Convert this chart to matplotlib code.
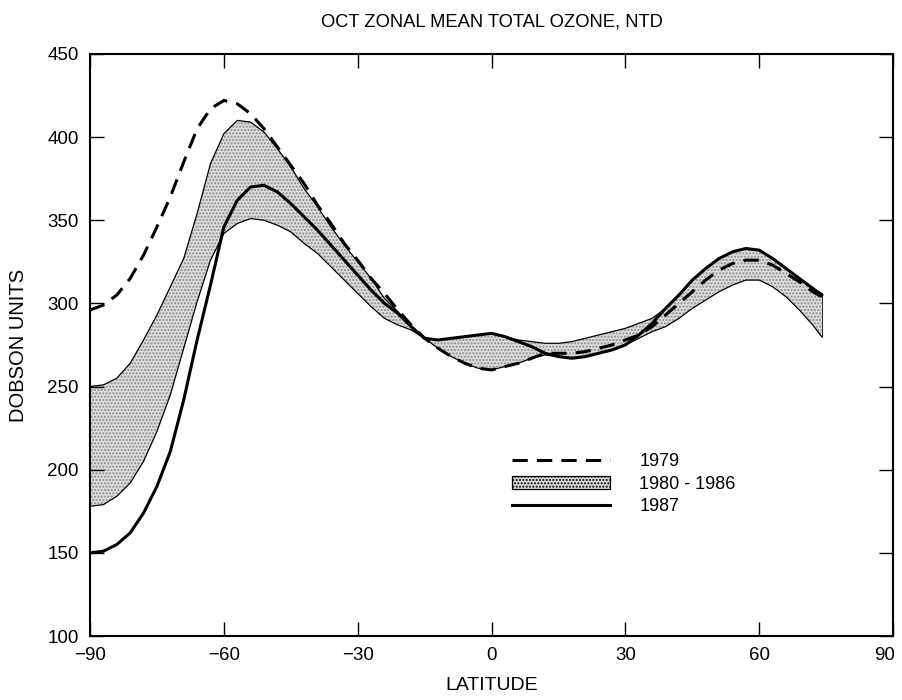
import matplotlib.pyplot as plt
from matplotlib.lines import Line2D
from matplotlib.patches import Patch
from matplotlib.transforms import ScaledTranslation

plt.rcParams['font.family'] = ['Liberation Sans', 'DejaVu Sans']

lat = [-90, -87, -84, -81, -78, -75, -72, -69, -66, -63, -60, -57, -54, -51,
       -48, -45, -42, -39, -36, -33, -30, -27, -24, -21, -18, -15, -12, -9,
       -6, -3, 0, 3, 6, 9, 12, 15, 18, 21, 24, 27, 30, 33, 36, 39, 42, 45,
       48, 51, 54, 57, 60, 63, 66, 69, 72, 74]

oz_1979 = [296, 299, 305, 315, 329, 346, 364, 385, 405, 417, 422, 420, 414,
           405, 394, 383, 372, 359, 348, 336, 326, 315, 306, 296, 287, 279,
           273, 268, 264, 261, 260, 262, 264, 267, 270, 270, 270, 271, 273,
           275, 278, 281, 286, 293, 300, 307, 314, 320, 324, 326, 326, 323,
           318, 313, 307, 304]

oz_1987 = [150, 151, 155, 162, 174, 190, 211, 242, 278, 311, 346, 362, 370,
           371, 367, 360, 352, 344, 335, 326, 317, 308, 300, 294, 286, 279,
           278, 279, 280, 281, 282, 280, 277, 274, 270, 268, 267, 268, 270,
           272, 275, 281, 288, 297, 305, 314, 321, 327, 331, 333, 332, 327,
           321, 315, 309, 305]

band_hi = [250, 251, 255, 264, 278, 293, 310, 327, 354, 384, 402, 410, 409,
           403, 393, 382, 369, 358, 346, 335, 325, 315, 303, 295, 286, 279,
           278, 279, 280, 281, 282, 280, 278, 277, 276, 276, 277, 279, 281,
           283, 285, 288, 291, 297, 305, 314, 321, 327, 331, 333, 332, 327,
           321, 315, 309, 306]

band_lo = [178, 179, 184, 192, 205, 223, 245, 273, 301, 326, 342, 348, 351,
           350, 347, 343, 336, 330, 322, 314, 306, 298, 291, 287, 284, 279,
           273, 268, 264, 261, 260, 262, 264, 267, 269, 268, 267, 268, 270,
           272, 275, 279, 283, 286, 291, 297, 302, 307, 311, 314, 314, 310,
           304, 296, 287, 280]

fig = plt.figure(figsize=(9.03, 7.0), dpi=100)
ax = fig.add_axes([0.0997, 0.0914, 0.8893, 0.8316])

ax.fill_between(lat, band_lo, band_hi, facecolor='#dcdcdc',
                edgecolor='#8a8a8a', hatch='.....', linewidth=0)
ax.plot(lat, band_hi, color='black', lw=0.9)
ax.plot(lat, band_lo, color='black', lw=0.9)
ax.plot([lat[-1], lat[-1]], [band_lo[-1], band_hi[-1]], color='black', lw=0.6)
ax.plot(lat, oz_1979, color='black', lw=2.2, dashes=(5, 3))
ax.plot(lat, oz_1987, color='black', lw=2.2)

ax.set_xlim(-90, 90)
ax.set_ylim(100, 450)
ax.set_xticks(range(-90, 91, 30))
ax.set_yticks(range(100, 451, 50))
ax.tick_params(direction='in', length=10, width=1, labelsize=13.5,
               top=True, right=True, pad=8)
for s in ax.spines.values():
    s.set_linewidth(1.5)

# last x label sits a little left of its tick, as in the original
last = ax.get_xticklabels()[-1]
last.set_transform(last.get_transform() +
                   ScaledTranslation(-6 / 72, 0, fig.dpi_scale_trans))

ax.set_title('OCT ZONAL MEAN TOTAL OZONE, NTD', fontsize=13.2, pad=20)
ax.set_xlabel('LATITUDE', fontsize=14, labelpad=9)
ax.set_ylabel('DOBSON UNITS', fontsize=14.5, labelpad=14)

handles = [Line2D([], [], color='black', lw=2.2, dashes=(5, 3)),
           Patch(facecolor='#dcdcdc', edgecolor='black', hatch='.....', lw=0.9),
           Line2D([], [], color='black', lw=2.2)]
labels = ['1979', '1980 - 1986', '1987']
ax.legend(handles, labels, frameon=False, fontsize=13, handlelength=5.4,
          handleheight=0.7, handletextpad=1.65, labelspacing=0.3,
          borderpad=0, borderaxespad=0,
          loc='upper left', bbox_to_anchor=(0.5255, 0.314))

fig.savefig('out.png', dpi=100)
